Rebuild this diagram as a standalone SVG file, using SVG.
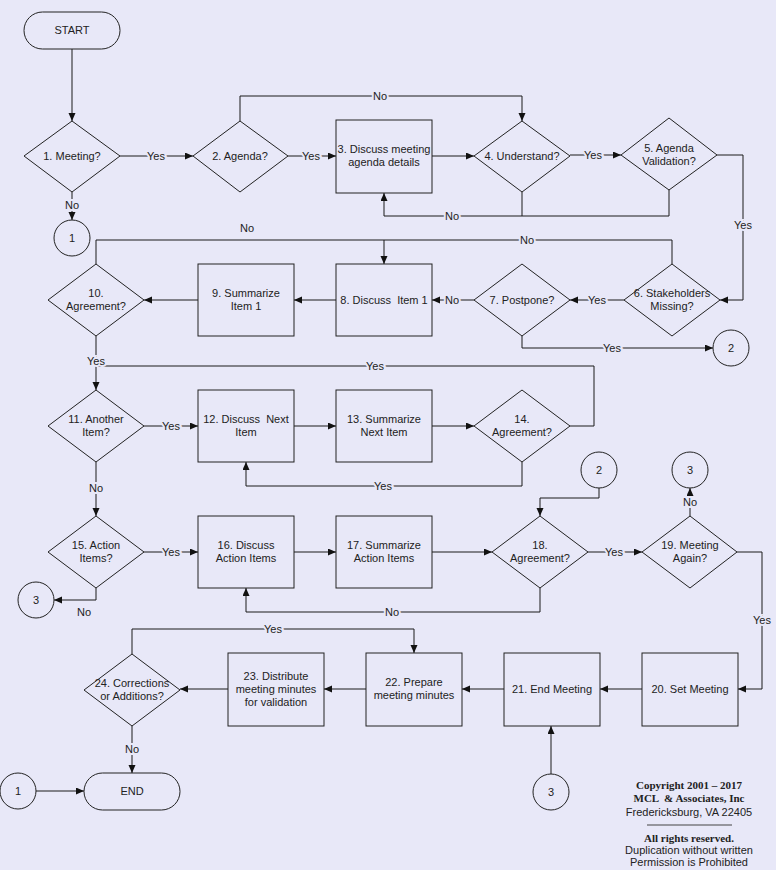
<svg xmlns="http://www.w3.org/2000/svg" width="776" height="870" viewBox="0 0 776 870">
<defs>
<marker id="ah" markerUnits="userSpaceOnUse" markerWidth="9" markerHeight="8" refX="8" refY="3.5" orient="auto">
<path d="M0,0 L8,3.5 L0,7 z" fill="#111"/>
</marker>
<style>
.s{fill:none;stroke:#222;stroke-width:1}
.t{font-family:"Liberation Sans",Arial,sans-serif;font-size:11px;fill:#222;text-anchor:middle;dominant-baseline:central}
.c{fill:none;stroke:#1a1a1a;stroke-width:1}
.a{marker-end:url(#ah)}
.l{font-family:"Liberation Sans",Arial,sans-serif;font-size:11px;fill:#222;text-anchor:middle;dominant-baseline:central;paint-order:stroke;stroke:#E8E8F8;stroke-width:4px}
.cp{font-family:"Liberation Serif","Times New Roman",serif;font-size:11px;font-weight:bold;fill:#222;text-anchor:middle}
.cs{font-family:"Liberation Sans",Arial,sans-serif;font-size:11px;fill:#222;text-anchor:middle}
</style>
</defs>
<rect width="776" height="870" fill="#E8E8F8"/>
<g id="connectors">
<path class="c a" d="M72,49 V121"/>
<path class="c a" d="M120,156 H193"/>
<path class="c a" d="M72,192 V220"/>
<path class="c a" d="M288,156 H336"/>
<path class="c a" d="M240,121 V96 H522 V121"/>
<path class="c a" d="M432,156 H474"/>
<path class="c a" d="M570,155 H621"/>
<path class="c a" d="M522,192 V216 H384 V193"/>
<path class="c" d="M669,190 V216 H522"/>
<path class="c a" d="M717,155 H743 V300 H720"/>
<path class="c a" d="M672,264 V240 H384 V264"/>
<path class="c" d="M96,264 V240 H384"/>
<path class="c a" d="M624,300 H570"/>
<path class="c a" d="M474,300 H432"/>
<path class="c a" d="M522,336 V348 H713"/>
<path class="c a" d="M336,300 H294"/>
<path class="c a" d="M198,300 H144"/>
<path class="c a" d="M96,336 V390"/>
<path class="c" d="M570,426 H594 V366 H96"/>
<path class="c a" d="M144,426 H198"/>
<path class="c a" d="M294,426 H336"/>
<path class="c a" d="M432,426 H474"/>
<path class="c a" d="M522,462 V486 H246 V462"/>
<path class="c a" d="M96,462 V516"/>
<path class="c a" d="M96,588 V600 H54"/>
<path class="c a" d="M144,552 H198"/>
<path class="c a" d="M294,552 H336"/>
<path class="c a" d="M432,552 H492"/>
<path class="c a" d="M599,488 V498 H540 V516"/>
<path class="c a" d="M588,552 H642"/>
<path class="c a" d="M690,516 V488"/>
<path class="c a" d="M540,588 V612 H246 V588"/>
<path class="c a" d="M737,552 H762 V689 H738"/>
<path class="c a" d="M642,689 H600"/>
<path class="c a" d="M551,774 V726"/>
<path class="c a" d="M504,689 H462"/>
<path class="c a" d="M366,689 H324"/>
<path class="c a" d="M228,689 H180"/>
<path class="c a" d="M132,654 V629 H414 V653"/>
<path class="c a" d="M132,726 V773"/>
<path class="c a" d="M36,791 H84"/>
<text class="l" x="156" y="156">Yes</text>
<text class="l" x="72" y="205">No</text>
<text class="l" x="311" y="156">Yes</text>
<text class="l" x="380" y="96">No</text>
<text class="l" x="593" y="155">Yes</text>
<text class="l" x="452" y="216">No</text>
<text class="l" x="743" y="225">Yes</text>
<text class="l" x="527" y="240">No</text>
<text class="l" x="247" y="228">No</text>
<text class="l" x="597" y="300">Yes</text>
<text class="l" x="452" y="300">No</text>
<text class="l" x="612" y="348">Yes</text>
<text class="l" x="96" y="361">Yes</text>
<text class="l" x="375" y="366">Yes</text>
<text class="l" x="171" y="426">Yes</text>
<text class="l" x="383" y="486">Yes</text>
<text class="l" x="96" y="488">No</text>
<text class="l" x="84" y="612">No</text>
<text class="l" x="171" y="552">Yes</text>
<text class="l" x="614" y="552">Yes</text>
<text class="l" x="690" y="502">No</text>
<text class="l" x="392" y="612">No</text>
<text class="l" x="762" y="620">Yes</text>
<text class="l" x="273" y="629">Yes</text>
<text class="l" x="132" y="749">No</text>
</g>
<g id="start"><rect class="s" x="24" y="12" width="96" height="37" rx="18.5"/><text class="t" x="72" y="30">START</text></g>
<g id="d1"><path class="s" d="M24,156 L72,121 L120,156 L72,192 Z"/><text class="t" x="72" y="156">1. Meeting?</text></g>
<g id="d2"><path class="s" d="M193,156 L240,121 L288,156 L240,192 Z"/><text class="t" x="240" y="156">2. Agenda?</text></g>
<g id="b3"><rect class="s" x="336" y="120" width="96" height="73"/><text class="t" x="384" y="149">3. Discuss meeting</text><text class="t" x="384" y="162">agenda details</text></g>
<g id="d4"><path class="s" d="M474,156 L522,121 L570,156 L522,192 Z"/><text class="t" x="522" y="156">4. Understand?</text></g>
<g id="d5"><path class="s" d="M621,155 L669,118 L717,155 L669,190 Z"/><text class="t" x="669" y="148">5. Agenda</text><text class="t" x="669" y="161">Validation?</text></g>
<g id="c1a"><circle class="s" cx="72" cy="238" r="18"/><text class="t" x="72" y="238">1</text></g>
<g id="d6"><path class="s" d="M624,300 L672,264 L720,300 L672,336 Z"/><text class="t" x="672" y="293">6. Stakeholders</text><text class="t" x="672" y="306">Missing?</text></g>
<g id="d7"><path class="s" d="M474,300 L522,264 L570,300 L522,336 Z"/><text class="t" x="522" y="300">7. Postpone?</text></g>
<g id="b8"><rect class="s" x="336" y="264" width="96" height="72"/><text class="t" x="384" y="300" xml:space="preserve">8. Discuss  Item 1</text></g>
<g id="b9"><rect class="s" x="198" y="264" width="96" height="72"/><text class="t" x="246" y="293">9. Summarize</text><text class="t" x="246" y="306">Item 1</text></g>
<g id="d10"><path class="s" d="M48,300 L96,264 L144,300 L96,336 Z"/><text class="t" x="96" y="293">10.</text><text class="t" x="96" y="306">Agreement?</text></g>
<g id="c2a"><circle class="s" cx="731" cy="348" r="18"/><text class="t" x="731" y="348">2</text></g>
<g id="d11"><path class="s" d="M48,426 L96,390 L144,426 L96,462 Z"/><text class="t" x="96" y="419">11. Another</text><text class="t" x="96" y="432">Item?</text></g>
<g id="b12"><rect class="s" x="198" y="390" width="96" height="72"/><text class="t" x="246" y="419" xml:space="preserve">12. Discuss  Next</text><text class="t" x="246" y="432">Item</text></g>
<g id="b13"><rect class="s" x="336" y="390" width="96" height="72"/><text class="t" x="384" y="419">13. Summarize</text><text class="t" x="384" y="432">Next Item</text></g>
<g id="d14"><path class="s" d="M474,426 L522,390 L570,426 L522,462 Z"/><text class="t" x="522" y="419">14.</text><text class="t" x="522" y="432">Agreement?</text></g>
<g id="d15"><path class="s" d="M48,552 L96,516 L144,552 L96,588 Z"/><text class="t" x="96" y="545">15. Action</text><text class="t" x="96" y="558">Items?</text></g>
<g id="c3a"><circle class="s" cx="36" cy="600" r="18"/><text class="t" x="36" y="600">3</text></g>
<g id="b16"><rect class="s" x="198" y="516" width="96" height="72"/><text class="t" x="246" y="545">16. Discuss</text><text class="t" x="246" y="558">Action Items</text></g>
<g id="b17"><rect class="s" x="336" y="516" width="96" height="72"/><text class="t" x="384" y="545">17. Summarize</text><text class="t" x="384" y="558">Action Items</text></g>
<g id="c2b"><circle class="s" cx="599" cy="470" r="18"/><text class="t" x="599" y="470">2</text></g>
<g id="d18"><path class="s" d="M492,552 L540,516 L588,552 L540,588 Z"/><text class="t" x="540" y="545">18.</text><text class="t" x="540" y="558">Agreement?</text></g>
<g id="c3b"><circle class="s" cx="690" cy="470" r="18"/><text class="t" x="690" y="470">3</text></g>
<g id="d19"><path class="s" d="M642,552 L690,516 L737,552 L690,588 Z"/><text class="t" x="690" y="545">19. Meeting</text><text class="t" x="690" y="558">Again?</text></g>
<g id="b20"><rect class="s" x="642" y="653" width="96" height="73"/><text class="t" x="690" y="689">20. Set Meeting</text></g>
<g id="b21"><rect class="s" x="504" y="653" width="96" height="73"/><text class="t" x="552" y="689">21. End Meeting</text></g>
<g id="b22"><rect class="s" x="366" y="653" width="96" height="73"/><text class="t" x="414" y="682">22. Prepare</text><text class="t" x="414" y="695">meeting minutes</text></g>
<g id="b23"><rect class="s" x="228" y="653" width="96" height="73"/><text class="t" x="276" y="676">23. Distribute</text><text class="t" x="276" y="689">meeting minutes</text><text class="t" x="276" y="702">for validation</text></g>
<g id="d24"><path class="s" d="M84,690 L132,654 L180,690 L132,726 Z"/><text class="t" x="132" y="683">24. Corrections</text><text class="t" x="132" y="696">or Additions?</text></g>
<g id="c3c"><circle class="s" cx="551" cy="792" r="18"/><text class="t" x="551" y="792">3</text></g>
<g id="c1b"><circle class="s" cx="18" cy="791" r="18"/><text class="t" x="18" y="791">1</text></g>
<g id="end"><rect class="s" x="84" y="773" width="96" height="37" rx="18.5"/><text class="t" x="132" y="791">END</text></g>
<g id="copyright">
<text class="cp" x="689" y="789">Copyright 2001 – 2017</text>
<text class="cp" x="689" y="802" xml:space="preserve">MCL  &amp; Associates, Inc</text>
<text class="cs" x="689" y="816">Fredericksburg, VA 22405</text>
<line x1="647" y1="825" x2="732" y2="825" stroke="#444" stroke-width="1"/>
<text class="cp" x="689" y="842">All rights reserved.</text>
<text class="cs" x="689" y="854">Duplication without written</text>
<text class="cs" x="689" y="866">Permission is Prohibited</text>
</g>
</svg>
